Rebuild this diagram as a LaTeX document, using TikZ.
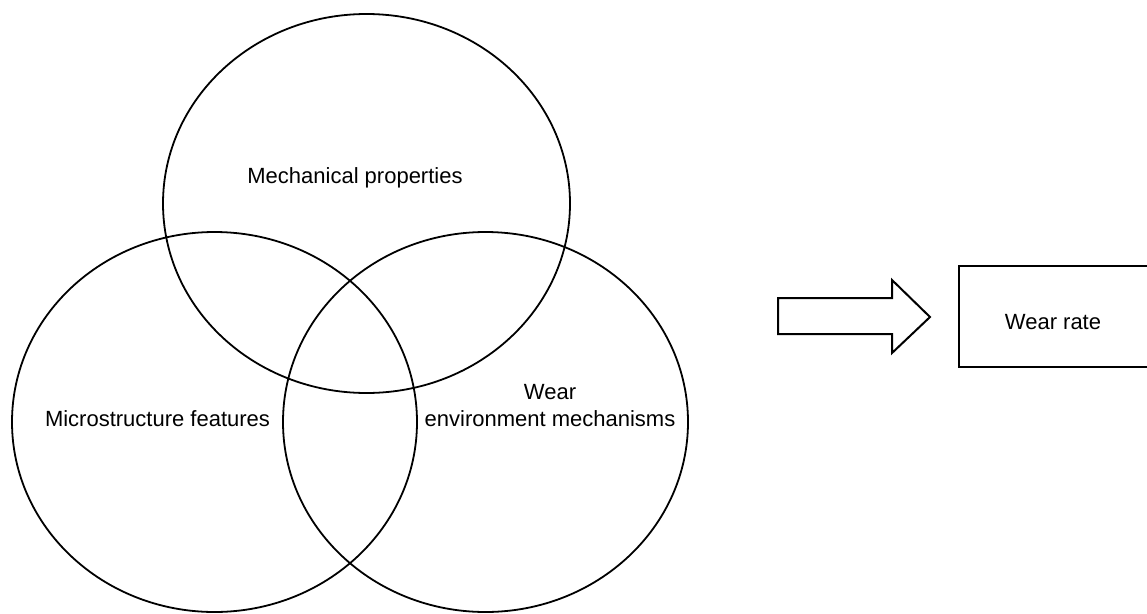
\documentclass[tikz,border=0pt]{standalone}
\usepackage{fontspec}
\setmainfont{Liberation Sans}
\usetikzlibrary{positioning}
\tikzset{
  venn/.style       = {black, line width=1.8pt},
  blockarrow/.style = {black, line width=2pt, line join=miter},
  ratebox/.style    = {draw, black, line width=2pt, rectangle, inner sep=0pt,
                       minimum width=196pt, minimum height=101pt},
  lbl/.style        = {font=\fontsize{22}{26}\selectfont, anchor=base, inner sep=0pt},
}

\begin{document}
\begin{tikzpicture}[x=1pt, y=-1pt]
  \useasboundingbox (0,0) rectangle (1147,613);

  % three overlapping sets
  \draw[venn] (366.5,203.5) ellipse [x radius=203.5, y radius=189.5];
  \draw[venn] (214.5,422)   ellipse [x radius=202.5, y radius=190];
  \draw[venn] (485.5,422)   ellipse [x radius=202.5, y radius=190];

  \node[lbl] (mech)  at (355,183)   {Mechanical properties};
  \node[lbl] (micro) at (157.5,426) {Microstructure features};
  \node[lbl] (wearA) at (550,399)   {Wear};
  \node[lbl] (wearB) at (550,426)   {environment mechanisms};

  % block arrow -> result
  \draw[blockarrow] (778,298) -- (892,298) -- (892,280) -- (930,317)
                    -- (892,353) -- (892,334) -- (778,334) -- cycle;

  \node[ratebox] (rate) at (1057,316.5) {};
  \node[lbl] (ratetxt) at (1053,329) {Wear rate};
\end{tikzpicture}
\end{document}
